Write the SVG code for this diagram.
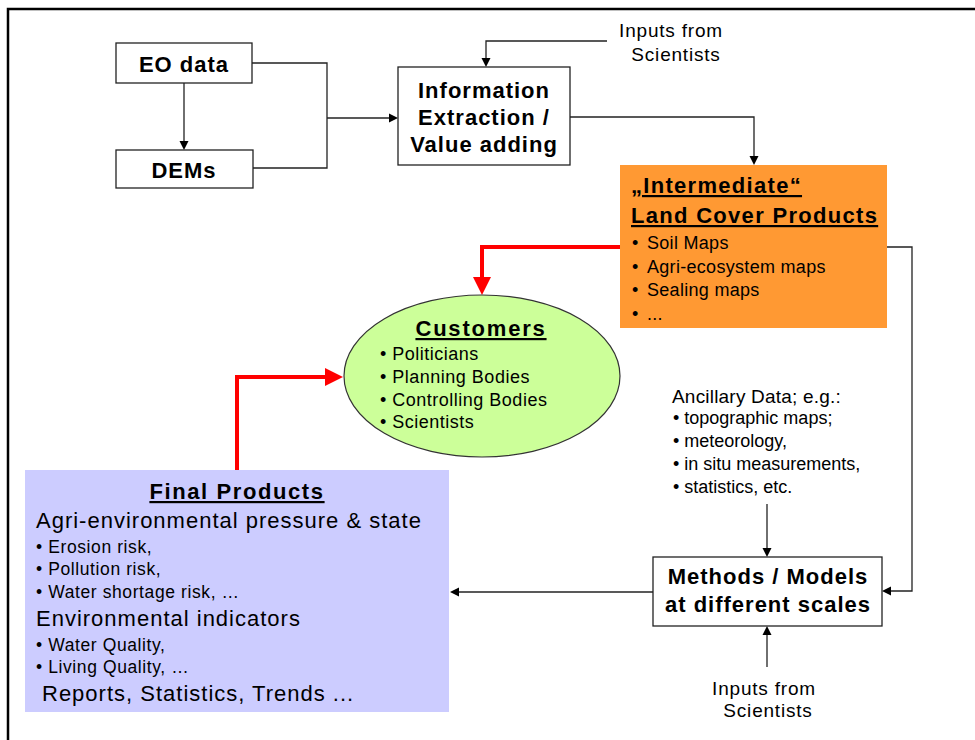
<svg xmlns="http://www.w3.org/2000/svg" width="975" height="740" viewBox="0 0 975 740">
<defs>
<style>
text{font-family:"Liberation Sans",Arial,sans-serif;fill:#000}
.b{font-weight:bold;font-size:22px;letter-spacing:1px}
.bc{text-anchor:middle}
.u{text-decoration:underline}
.lg{font-size:22px;letter-spacing:1px}
.sm{font-size:17.5px;letter-spacing:0.6px}
.md{font-size:18px;letter-spacing:0.3px}
.inp{font-size:19px;letter-spacing:0.8px;text-anchor:middle}
.box{fill:#fff;stroke:#222;stroke-width:1.3}
.ln{fill:none;stroke:#222;stroke-width:1.3}
.rd{fill:none;stroke:#ff0000;stroke-width:4}
</style>
<marker id="ah" markerUnits="userSpaceOnUse" markerWidth="10" markerHeight="10" refX="0" refY="5" orient="auto" viewBox="0 0 10 10">
<path d="M0,0.5 L9,5 L0,9.5 z" fill="#000"/>
</marker>
<marker id="rh" markerUnits="userSpaceOnUse" markerWidth="18" markerHeight="18" refX="0" refY="9" orient="auto" viewBox="0 0 18 18">
<path d="M0,0 L18,9 L0,18 z" fill="#ff0000"/>
</marker>
</defs>
<rect width="975" height="740" fill="#fff"/>
<path d="M8,740 V9 H975" fill="none" stroke="#000" stroke-width="2.5"/>

<g id="connectors">
<path class="ln" d="M184,83 V141" marker-end="url(#ah)"/>
<path class="ln" d="M252,63 H327 V168 H253"/>
<path class="ln" d="M327,118 H389" marker-end="url(#ah)"/>
<path class="ln" d="M607,41 H486 V58" marker-end="url(#ah)"/>
<path class="ln" d="M570,117 H754 V156" marker-end="url(#ah)"/>
<path class="ln" d="M887,247 H912 V591 H891" marker-end="url(#ah)"/>
<path class="ln" d="M767,504 V548" marker-end="url(#ah)"/>
<path class="ln" d="M767,667 V635" marker-end="url(#ah)"/>
<path class="ln" d="M653,592 H459" marker-end="url(#ah)"/>
<path class="rd" d="M620,247 H482 V277" marker-end="url(#rh)"/>
<path class="rd" d="M237,470 V377 H325" marker-end="url(#rh)"/>
</g>

<g id="eo-data">
<rect class="box" x="116" y="43" width="136" height="40"/>
<text class="b bc" x="184" y="72">EO data</text>
</g>

<g id="dems">
<rect class="box" x="116" y="150" width="137" height="38"/>
<text class="b bc" x="184" y="178">DEMs</text>
</g>

<g id="info-extraction">
<rect class="box" x="398" y="67" width="172" height="98"/>
<text class="b bc" x="484" y="98">Information</text>
<text class="b bc" x="484" y="125">Extraction /</text>
<text class="b bc" x="484" y="152">Value adding</text>
</g>

<g id="inputs-top">
<text class="inp" x="671" y="37">Inputs from</text>
<text class="inp" x="676" y="61">Scientists</text>
</g>

<g id="intermediate">
<rect x="620" y="165" width="267" height="163" fill="#ff9933"/>
<text class="b u" x="631" y="193" style="letter-spacing:1.3px">„Intermediate“</text>
<text class="b u" x="631" y="223" style="letter-spacing:1.3px">Land Cover Products</text>
<text class="md"><tspan x="632" y="249">•</tspan><tspan x="647" y="249">Soil Maps</tspan></text>
<text class="md"><tspan x="632" y="273">•</tspan><tspan x="647" y="273">Agri-ecosystem maps</tspan></text>
<text class="md"><tspan x="632" y="296">•</tspan><tspan x="647" y="296">Sealing maps</tspan></text>
<text class="md"><tspan x="632" y="320">•</tspan><tspan x="647" y="320">...</tspan></text>
</g>

<g id="customers">
<ellipse cx="482" cy="376" rx="138" ry="81" fill="#ccff99" stroke="#333" stroke-width="1.2"/>
<text class="b bc u" x="481" y="336" style="letter-spacing:1.8px">Customers</text>
<text class="md" x="380" y="360" style="letter-spacing:0.5px">• Politicians</text>
<text class="md" x="380" y="383" style="letter-spacing:0.5px">• Planning Bodies</text>
<text class="md" x="380" y="406" style="letter-spacing:0.5px">• Controlling Bodies</text>
<text class="md" x="380" y="428" style="letter-spacing:0.5px">• Scientists</text>
</g>

<g id="ancillary">
<text x="672" y="403" style="font-size:19px;letter-spacing:0.2px">Ancillary Data; e.g.:</text>
<text class="md" x="673" y="424" style="letter-spacing:0">• topographic maps;</text>
<text class="md" x="673" y="447" style="letter-spacing:0">• meteorology,</text>
<text class="md" x="673" y="470" style="letter-spacing:0">• in situ measurements,</text>
<text class="md" x="673" y="493" style="letter-spacing:0">• statistics, etc.</text>
</g>

<g id="methods">
<rect class="box" x="653" y="557" width="229" height="69"/>
<text class="b bc" x="768" y="584">Methods / Models</text>
<text class="b bc" x="768" y="612">at different scales</text>
</g>

<g id="inputs-bottom">
<text class="inp" x="764" y="695">Inputs from</text>
<text class="inp" x="768" y="717">Scientists</text>
</g>

<g id="final-products">
<rect x="25" y="470" width="424" height="242" fill="#ccccff"/>
<text class="b bc u" x="237" y="499" style="letter-spacing:1.6px">Final Products</text>
<text class="lg" x="36" y="528">Agri-environmental pressure &amp; state</text>
<text class="sm" x="36" y="553">• Erosion risk,</text>
<text class="sm" x="36" y="575">• Pollution risk,</text>
<text class="sm" x="36" y="598">• Water shortage risk, …</text>
<text class="lg" x="36" y="626">Environmental indicators</text>
<text class="sm" x="36" y="651">• Water Quality,</text>
<text class="sm" x="36" y="673">• Living Quality, …</text>
<text class="lg" x="42" y="701">Reports, Statistics, Trends ...</text>
</g>
</svg>
